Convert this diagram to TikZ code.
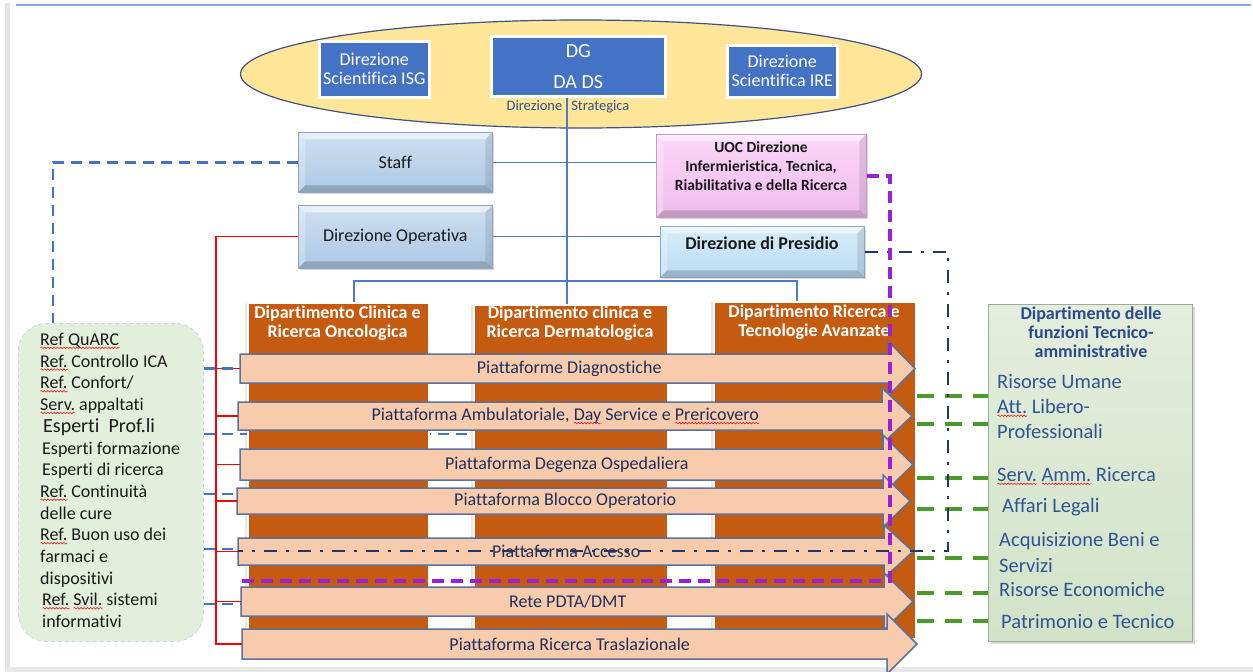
\documentclass[tikz,border=0pt]{standalone}
\usepackage{fontspec}
\setmainfont{Carlito}[Ligatures=NoCommon]
\usetikzlibrary{shapes.geometric,shadows,decorations.pathmorphing}

\definecolor{cFrameBlue}{HTML}{86A8DF}
\definecolor{cFrameGrey}{HTML}{E4E4E4}
\definecolor{cEllipse}{HTML}{FFE699}
\definecolor{cEllipseEdge}{HTML}{3E5283}
\definecolor{cBlue}{HTML}{4472C4}
\definecolor{cLine}{HTML}{4F7AC7}
\definecolor{cStrat}{HTML}{2F4F8F}
\definecolor{cLbTop}{HTML}{CFE0F1}
\definecolor{cLbBot}{HTML}{ABC8E4}
\definecolor{cLbEdge}{HTML}{8AA6C4}
\definecolor{cPinkTop}{HTML}{FAD6F8}
\definecolor{cPinkBot}{HTML}{F0BCEE}
\definecolor{cPinkEdge}{HTML}{C99AC6}
\definecolor{cSkyTop}{HTML}{D8ECFA}
\definecolor{cSkyBot}{HTML}{BBDBF2}
\definecolor{cOrange}{HTML}{C55A11}
\definecolor{cPeach}{HTML}{F8CBAD}
\definecolor{cPlatEdge}{HTML}{5A729E}
\definecolor{cPlatText}{HTML}{1F2F5C}
\definecolor{cLeftFill}{HTML}{E2EFDA}
\definecolor{cLeftEdge}{HTML}{C6D5EE}
\definecolor{cRightTop}{HTML}{E3EEDC}
\definecolor{cRightBot}{HTML}{D2E3C8}
\definecolor{cRightEdge}{HTML}{A0AA9A}
\definecolor{cRightText}{HTML}{2F5597}
\definecolor{cRightTitle}{HTML}{2B4A8C}
\definecolor{cGreen}{HTML}{4A9A2C}
\definecolor{cNavy}{HTML}{1F3864}
\definecolor{cPurple}{HTML}{9B1FD6}
\definecolor{cDashBlue}{HTML}{4472C4}
\definecolor{cSpell}{HTML}{E02020}
\definecolor{cDark}{HTML}{1A1A1A}

\newcommand\fs[2]{\fontsize{#1pt}{#2pt}\selectfont}

% red wavy proofing mark under a word
\newsavebox\spellbox
\newlength\spellwd
\newcommand\sq[1]{\sbox\spellbox{#1}\setlength\spellwd{\wd\spellbox}%
  \rlap{\raisebox{-3.4pt}[0pt][0pt]{\tikz[solid,sharp corners,line width=.6pt]\draw[cSpell,decorate,
    decoration={snake,amplitude=.8pt,segment length=3.2pt}] (0pt,0pt) -- (\spellwd,0pt);}}%
  \usebox\spellbox}

% block arrow: name, x-left, y-top, y-bottom, x-head-base, x-tip, head overhang, text
\newcommand\platform[8]{%
  \filldraw[platshape] (#2,#3) -- (#5,#3) -- (#5,#3-#7) -- (#6,{(#3+#4)/2})
     -- (#5,#4+#7) -- (#5,#4) -- (#2,#4) -- cycle;
  \node[plattext, minimum width=#5pt-#2pt, minimum height=#4pt-#3pt, anchor=west]
     (#1) at (#2,{(#3+#4)/2}) {\hspace*{10pt}#8};}

\begin{document}
\begin{tikzpicture}[x=1pt,y=-1pt,
  bevel/.style={path picture={
    \path (path picture bounding box.north west) coordinate (bvA)
          (path picture bounding box.north east) coordinate (bvB)
          (path picture bounding box.south east) coordinate (bvC)
          (path picture bounding box.south west) coordinate (bvD);
    \fill[white,opacity=.5] (bvA) -- (bvB) -- ([xshift=-#1,yshift=-#1]bvB) -- ([xshift=#1,yshift=-#1]bvA) -- cycle;
    \fill[white,opacity=.28] (bvA) -- ([xshift=#1,yshift=-#1]bvA) -- ([xshift=#1,yshift=#1]bvD) -- (bvD) -- cycle;
    \fill[black,opacity=.18] (bvD) -- ([xshift=#1,yshift=#1]bvD) -- ([xshift=-#1,yshift=#1]bvC) -- (bvC) -- cycle;
    \fill[black,opacity=.1] (bvC) -- ([xshift=-#1,yshift=#1]bvC) -- ([xshift=-#1,yshift=-#1]bvB) -- (bvB) -- cycle;
  }},
  bevel/.default=7pt,
  softshadow/.style={drop shadow={shadow xshift=2pt,shadow yshift=-2pt,opacity=.3}},
  topbox/.style={draw=white,line width=2.5pt,fill=cBlue,text=white,align=center,
    inner sep=0pt,softshadow,font=\fs{18}{19}},
  lightbox/.style={bevel,top color=cLbTop,bottom color=cLbBot,draw=cLbEdge,line width=.6pt,
    inner sep=0pt,softshadow,text=cDark,font=\fs{18}{20}},
  pinkbox/.style={bevel,top color=cPinkTop,bottom color=cPinkBot,draw=cPinkEdge,line width=.6pt,
    inner sep=0pt,softshadow},
  skybox/.style={bevel,top color=cSkyTop,bottom color=cSkyBot,draw=cLbEdge,line width=.6pt,
    inner sep=0pt,softshadow},
  dept/.style={fill=cOrange,draw=white,line width=1.6pt,inner sep=0pt,
    drop shadow={shadow xshift=-2.5pt,shadow yshift=0pt,opacity=.18}},
  depttitle/.style={text=white,font=\bfseries\fs{18}{19},align=center,inner sep=0pt},
  platshape/.style={fill=cPeach,draw=cPlatEdge,line width=1.5pt,line join=miter},
  plattext/.style={text=cPlatText,font=\fs{18}{20},inner sep=0pt},
  leftbox/.style={fill=cLeftFill,draw=cLeftEdge,line width=.8pt,dash pattern=on 4pt off 3pt,
    rounded corners=28pt},
  lefttext/.style={text=cDark,font=\fs{18}{21.7},align=left,inner sep=0pt},
  rightbox/.style={top color=cRightTop,bottom color=cRightBot,draw=cRightEdge,line width=1pt,
    inner sep=0pt,softshadow},
  ritem/.style={text=cRightText,font=\fs{20.5}{24},anchor=base west,inner sep=0pt},
  conn/.style={draw=cLine,line width=1.3pt},
  redline/.style={draw=red,line width=1.1pt},
  bluedash/.style={draw=cDashBlue,line width=2.5pt,dash pattern=on 11pt off 7pt},
  greendash/.style={draw=cGreen,line width=3.5pt,dash pattern=on 17pt off 11pt},
  navydd/.style={draw=cNavy,line width=2.5pt,dash pattern=on 13pt off 9pt on 3pt off 9pt},
  purpledash/.style={draw=cPurple,line width=3.5pt,dash pattern=on 12pt off 7pt}
]
\useasboundingbox (0,0) rectangle (1253,672);
\fill[white] (0,0) rectangle (1253,672);

% slide frame
\fill[cFrameGrey] (5,3) rectangle (10,672);
\fill[cFrameGrey!85] (5,667) rectangle (1253,672);
\draw[cFrameBlue,line width=2.5pt] (16,5) -- (1251,5);

% strategic management
\node[ellipse,draw=cEllipseEdge,line width=1.2pt,fill=cEllipse,minimum width=681pt,
  minimum height=108pt,inner sep=0pt] (strat) at (581,74) {};
\node[text=cStrat,font=\fs{14.5}{16},inner sep=0pt] (stratlabel) at (568,107)
  {Direzione\hspace{9pt}Strategica};
\node[topbox,minimum width=110pt,minimum height=56pt,anchor=north west] (isg) at (318,40)
  {Direzione\\Scientifica ISG};
\node[topbox,minimum width=174pt,minimum height=60pt,anchor=north west,font=\fs{20}{32}] (dg)
  at (490,35) {DG\\[-1pt]DA DS};
\node[topbox,minimum width=110pt,minimum height=52pt,anchor=north west] (ire) at (726,44)
  {Direzione\\Scientifica IRE};

% staff level
\node[lightbox,minimum width=194pt,minimum height=60pt,anchor=north west] (staff) at (298,132) {Staff};
\node[lightbox,minimum width=194pt,minimum height=63pt,anchor=north west] (dirop) at (298,205)
  {Direzione Operativa};
\node[pinkbox,minimum width=210pt,minimum height=83pt,anchor=north west] (uoc) at (656,134) {};
\node[font=\bfseries\fs{15.5}{19},text=cDark,align=center,inner sep=0pt] (uoctext) at (761,166)
  {UOC Direzione\\Infermieristica, Tecnica,\\Riabilitativa e della Ricerca};
\node[skybox,minimum width=204pt,minimum height=51pt,anchor=north west] (presidio) at (660,226) {};
\node[font=\bfseries\fs{18}{20},text=cDark,inner sep=0pt] (presidiotext) at (762,243)
  {Direzione di Presidio};

% reference roles
\node[leftbox,minimum width=185pt,minimum height=318pt,anchor=north west] (lbox) at (18,323) {};
\node[lefttext,anchor=north west] (ltext) at (40,333)
  {\sq{Ref QuARC}\\
   \sq{Ref.} Controllo ICA\\
   \sq{Ref.} Confort/\\
   \sq{Serv.} appaltati\\
   \hspace*{3pt}{\fs{20}{21.7}Esperti\ \ Prof.li}\\
   \hspace*{2pt}Esperti formazione\\
   \hspace*{2pt}Esperti di ricerca\\
   \sq{Ref.} Continuità\\
   delle cure\\
   \sq{Ref.} Buon uso dei\\
   farmaci e\\
   dispositivi\\
   \hspace*{2pt}\sq{Ref.} \sq{Svil.} sistemi\\
   \hspace*{2pt}informativi};

% technical-administrative department
\node[rightbox,minimum width=204pt,minimum height=337pt,anchor=north west] (rbox) at (988,304) {};
\node[text=cRightTitle,font=\bfseries\fs{18}{19},align=center,inner sep=0pt] (rtitle) at (1091,332)
  {Dipartimento delle\\funzioni Tecnico-\\amministrative};
\node[ritem] (r1) at (997,388.5) {Risorse Umane};
\node[ritem] (r2) at (997,413.5) {\sq{Att.} Libero-};
\node[ritem] (r3) at (997,438.5) {Professionali};
\node[ritem] (r4) at (997,481.5) {\sq{Serv.} \sq{Amm.} Ricerca};
\node[ritem] (r5) at (1002,512.5) {Affari Legali};
\node[ritem] (r6) at (999,546.5) {Acquisizione Beni e};
\node[ritem] (r7) at (999,572.5) {Servizi};
\node[ritem] (r8) at (999,596.5) {Risorse Economiche};
\node[ritem] (r9) at (1001,628.5) {Patrimonio e Tecnico};

% departments
\node[dept,minimum width=194pt,minimum height=325pt,anchor=north west] (col2) at (473,304) {};
\draw[bluedash] (lbox.east |- 0,434) -- (col2.west |- 0,434);
\node[dept,minimum width=181pt,minimum height=327pt,anchor=north west] (col1) at (247,302) {};
\node[dept,minimum width=202pt,minimum height=337pt,anchor=north west] (col3) at (713,301) {};
\node[depttitle] (col1t) at (337.5,323) {Dipartimento Clinica e\\Ricerca Oncologica};
\node[depttitle] (col2t) at (570,323) {Dipartimento clinica e\\Ricerca Dermatologica};
\node[depttitle] (col3t) at (814,322) {Dipartimento Ricerca e\\Tecnologie Avanzate};

% solid connectors
\draw[conn] (567,0 |- dg.south) -- (567,0 |- col2.north);
\draw[conn] (staff.east) -- (uoc.west |- staff.east);
\draw[conn] (dirop.east) -- (presidio.west |- dirop.east);
\draw[conn] (354,0 |- col1.north) -- (354,281) -- (797,281) -- (797,0 |- col3.north);

% platforms
\platform{p1}{240}{354}{383}{888}{915}{13}{Piattaforme Diagnostiche}
\platform{p2}{238}{402}{430}{882}{912}{14}{Piattaforma Ambulatoriale, \sq{Day} Service e \sq{Prericovero}}
\platform{p3}{240}{449}{480}{883}{913}{14}{Piattaforma Degenza Ospedaliera}
\platform{p4}{237}{488}{514}{883}{910}{13}{Piattaforma Blocco Operatorio}
\platform{p5}{238}{538}{565}{884}{913}{13}{Piattaforma Accesso}
\platform{p6}{241}{587}{616}{884}{913}{14}{Rete PDTA/DMT}
\platform{p7}{242}{629}{659}{887}{917}{15}{Piattaforma Ricerca Traslazionale}

% operational line to the platforms
\draw[redline] (dirop.west) -- (216,0 |- dirop.west) -- (216,0 |- p7.west) -- (p7.west);
\foreach \p in {p1,p2,p3,p4,p5,p6} \draw[redline] (216,0 |- \p.west) -- (\p.west);

% staff and reference links
\draw[bluedash] (staff.west) -- (53,0 |- staff.west) -- (53,0 |- lbox.north);
\draw[bluedash] (lbox.east |- p1.west) -- (p1.west);
\draw[bluedash] (lbox.east |- 0,494) -- (p4.west |- 0,494);
\draw[bluedash] (lbox.east |- 0,549) -- (p5.west |- 0,549);
\draw[bluedash] (lbox.east |- 0,604) -- (p6.west |- 0,604);

% technical-administrative links
\foreach \y in {396,424,478,509,558,593,621}
  \draw[greendash] (col3.east |- 0,\y) -- (rbox.west |- 0,\y);

% hospital management link
\draw[navydd] (presidio.east) -- (948,0 |- presidio.east) -- (948,551) -- (p5.west |- 0,551);

% nursing direction link
\coordinate (nurseend) at (237,581);
\draw[purpledash] (uoc.east |- 0,176) -- (890,176) -- (890,581) -- (nurseend);
\end{tikzpicture}
\end{document}
